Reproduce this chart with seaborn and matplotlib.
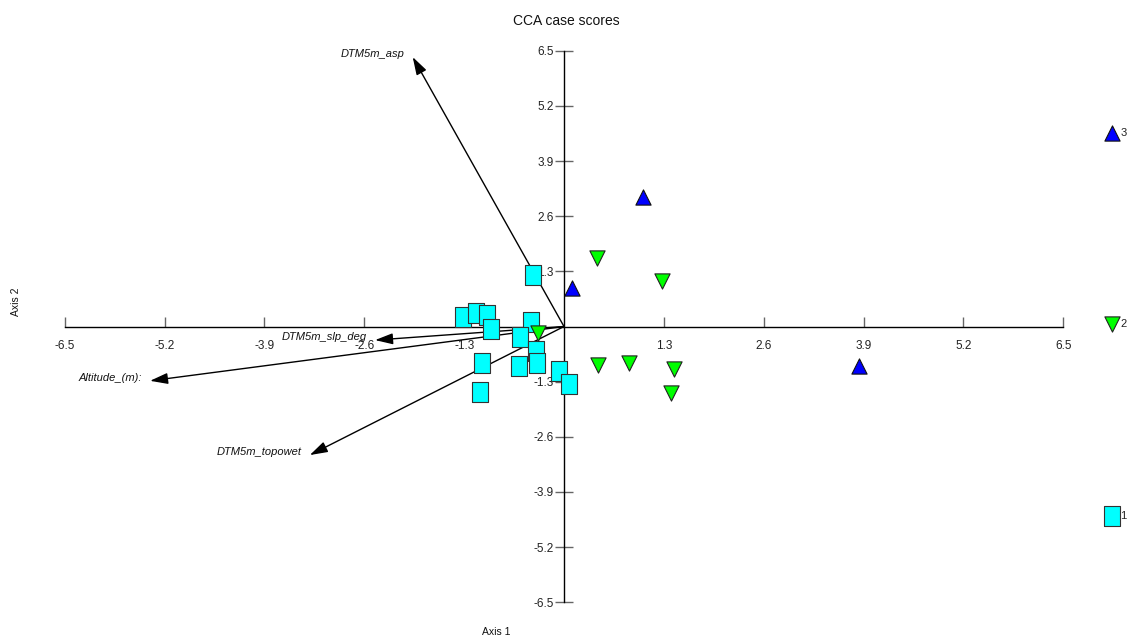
import numpy as np
import pandas as pd
import matplotlib
matplotlib.use("Agg")
import matplotlib.pyplot as plt
import seaborn as sns

sns.set_theme(style="white")
plt.rcParams["font.family"] = ["Liberation Sans", "DejaVu Sans"]

# Case scores on the first two CCA axes, by group
group1_x = [-0.40, -1.32, -1.15, -1.00, -0.95, -0.43, -0.57, -0.36, -0.35, -1.07, -0.59, -0.07, 0.07, -1.09]
group1_y = [1.21, 0.22, 0.32, 0.27, -0.06, 0.11, -0.25, -0.58, -0.86, -0.86, -0.93, -1.05, -1.36, -1.54]
group2_x = [0.43, 1.28, -0.34, 0.44, 0.85, 1.43, 1.39]
group2_y = [1.61, 1.07, -0.15, -0.91, -0.86, -1.00, -1.57]
group3_x = [1.03, 0.10, 3.84]
group3_y = [3.05, 0.91, -0.93]

# Environmental variable vectors (biplot arrows)
env_names = ["DTM5m_asp", "DTM5m_slp_deg", "Altitude_(m):", "DTM5m_topowet"]
env_x = [-1.97, -2.46, -5.39, -3.31]
env_y = [6.35, -0.32, -1.28, -3.03]

tick_values = [-6.5, -5.2, -3.9, -2.6, -1.3, 1.3, 2.6, 3.9, 5.2, 6.5]
groups = ["1", "2", "3"]
colors = {"1": "#00ffff", "2": "#00ff00", "3": "#0000ff"}
edges = {"1": "#333333", "2": "#222222", "3": "#111111"}
# slightly tall rectangle for group 1, triangles for the others
rect = [(-0.42, -0.5), (0.42, -0.5), (0.42, 0.5), (-0.42, 0.5), (-0.42, -0.5)]
markers = {"1": rect, "2": "v", "3": "^"}
sizes = {"1": 200, "2": 120, "3": 120}

df = pd.DataFrame({
    "x": group1_x + group2_x + group3_x,
    "y": group1_y + group2_y + group3_y,
    "group": ["1"] * len(group1_x) + ["2"] * len(group2_x) + ["3"] * len(group3_x),
})

fig = plt.figure(figsize=(11.32, 6.41), dpi=100)
ax = fig.add_axes([0, 0, 1, 1])
ax.set_xlim(-7.344, 7.396)
ax.set_ylim(-7.412, 7.695)

# Axes crossing at the origin
for side in ["top", "right"]:
    ax.spines[side].set_visible(False)
ax.spines["left"].set_position(("data", 0))
ax.spines["bottom"].set_position(("data", 0))
ax.spines["left"].set_bounds(-6.5, 6.5)
ax.spines["bottom"].set_bounds(-6.5, 6.5)
for side in ["left", "bottom"]:
    ax.spines[side].set_color("black")
    ax.spines[side].set_linewidth(1.0)
    ax.spines[side].set_zorder(1)

ax.set_xticks(tick_values)
ax.set_yticks(tick_values)
ax.set_xticklabels([f"{v:.1f}" for v in tick_values])
ax.set_yticklabels([f"{v:.1f}" for v in tick_values])
ax.tick_params(axis="x", bottom=True, direction="in", length=7, width=1,
               color="#666666", labelsize=8.5, pad=10, labelcolor="#222222")
ax.tick_params(axis="y", left=True, direction="inout", length=13, width=1,
               color="#666666", labelsize=8.5, pad=1, labelcolor="#222222")
ax.grid(False)

# Biplot arrows
for name, ex, ey in zip(env_names, env_x, env_y):
    ax.annotate("", xy=(ex, ey), xytext=(0, 0),
                arrowprops=dict(arrowstyle="-|>,head_length=0.9,head_width=0.28",
                                color="black", lw=1.0, shrinkA=0, shrinkB=0),
                zorder=2)
    ax.annotate(name, xy=(ex, ey), xytext=(-6, 2), textcoords="offset points",
                ha="right", va="center", style="italic", fontsize=8,
                color="#111111", zorder=3)

# Case scores
for g in groups:
    sub = df[df["group"] == g]
    sns.scatterplot(data=sub, x="x", y="y", marker=markers[g], color=colors[g],
                    edgecolor=edges[g], linewidth=0.8, s=sizes[g], ax=ax,
                    legend=False, zorder=4)

ax.set_xlabel("")
ax.set_ylabel("")

# Group key at the right margin
key_y = {"3": 0.7925, "2": 0.4945, "1": 0.195}
for g in groups:
    ax.scatter([0.9825], [key_y[g]], transform=ax.transAxes, marker=markers[g],
               s=sizes[g], color=colors[g], edgecolor=edges[g], linewidth=0.8,
               clip_on=False, zorder=5)
    ax.text(0.9895, key_y[g], g, transform=ax.transAxes, ha="left",
            va="center", fontsize=8, color="#222222")

fig.text(0.5, 0.968, "CCA case scores", ha="center", va="center", fontsize=10,
         color="#111111")
fig.text(0.438, 0.014, "Axis 1", ha="center", va="center", fontsize=7.5,
         color="#111111")
fig.text(0.014, 0.53, "Axis 2", ha="center", va="center", rotation=90,
         fontsize=7.5, color="#111111")

fig.savefig("out.png", dpi=100)
